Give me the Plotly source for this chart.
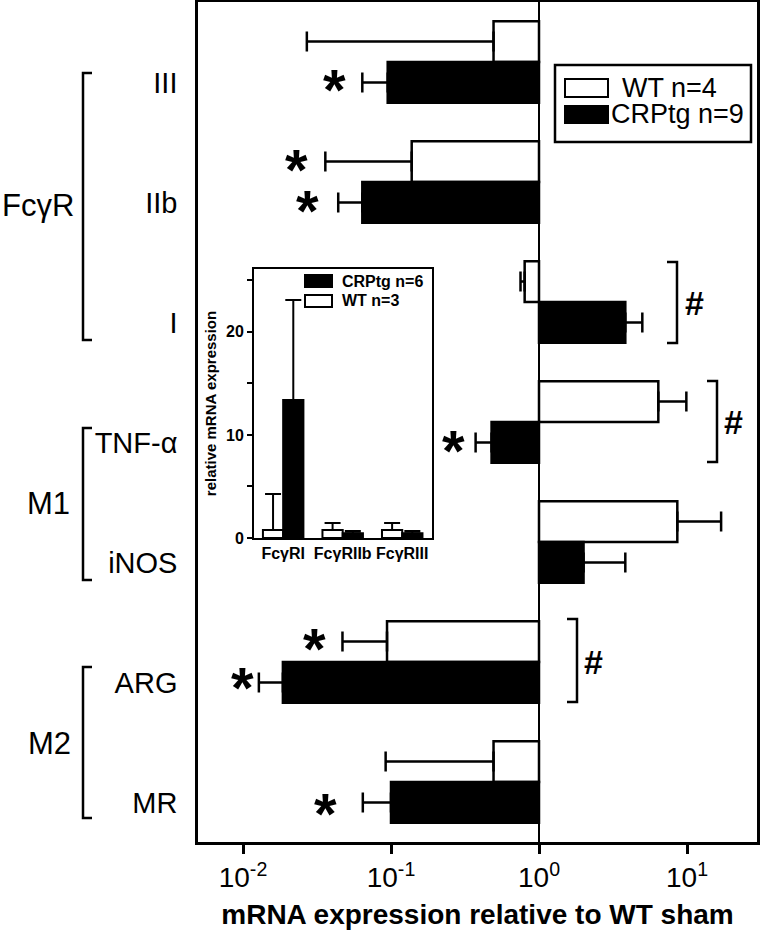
import plotly.graph_objects as go

# ---------------- data ----------------
categories = ["III", "IIb", "I", "TNF-α", "iNOS", "ARG", "MR"]
series_names = ["WT n=4", "CRPtg n=9"]
wt_values = [0.493, 0.138, 0.80, 6.4, 8.6, 0.094, 0.493]
wt_err_end = [0.027, 0.036, 0.75, 9.9, 17.0, 0.047, 0.092]
crp_values = [0.095, 0.064, 3.83, 0.478, 2.0, 0.0186, 0.100]
crp_err_end = [0.064, 0.044, 4.99, 0.373, 3.83, 0.0128, 0.0645]
reference_value = 1

x_tick_values = [0.01, 0.1, 1, 10]
x_tick_labels = ["10<sup>-2</sup>", "10<sup>-1</sup>", "10<sup>0</sup>", "10<sup>1</sup>"]
x_title = "mRNA expression relative to WT sham"

group_labels = ["FcγR", "M1", "M2"]

inset_categories = ["FcγRI", "FcγRIIb", "FcγRIII"]
inset_names = ["WT n=3", "CRPtg n=6"]
inset_wt = [0.78, 0.78, 0.78]
inset_wt_err = [3.5, 0.68, 0.68]
inset_crp = [13.4, 0.45, 0.45]
inset_crp_err = [9.7, 0.23, 0.23]
inset_y_title = "relative mRNA expression"

# ---------------- geometry helpers ----------------
W, H = 760, 930
L, R, T, B = 198, 3, 2, 88
PW = W - L - R
PH = H - T - B


def px(x):
    return (x - L) / PW


def py(y):
    return (H - B - y) / PH


def err_parts(values, ends):
    plus, minus = [], []
    for v, e in zip(values, ends):
        if e >= v:
            plus.append(e - v)
            minus.append(0)
        else:
            plus.append(0)
            minus.append(v - e)
    return plus, minus


FONT = "Liberation Sans, Arial, sans-serif"
LW = 2.5

fig = go.Figure()

for name, vals, ends, fill in [
    (series_names[0], wt_values, wt_err_end, "white"),
    (series_names[1], crp_values, crp_err_end, "black"),
]:
    plus, minus = err_parts(vals, ends)
    fig.add_trace(go.Bar(
        name=name, orientation="h", y=categories,
        x=[v - reference_value for v in vals], base=reference_value,
        marker=dict(color=fill, line=dict(color="black", width=LW)),
        error_x=dict(type="data", symmetric=False, array=plus, arrayminus=minus,
                     color="black", thickness=LW, width=10),
        showlegend=False, xaxis="x", yaxis="y",
    ))

for name, vals, errs, fill in [
    (inset_names[0], inset_wt, inset_wt_err, "white"),
    (inset_names[1], inset_crp, inset_crp_err, "black"),
]:
    fig.add_trace(go.Bar(
        name=name, x=inset_categories, y=vals,
        marker=dict(color=fill, line=dict(color="black", width=2)),
        error_y=dict(type="data", symmetric=False, array=errs,
                     arrayminus=[0] * len(errs), color="black", thickness=2, width=8),
        showlegend=False, xaxis="x2", yaxis="y2",
    ))

shapes = []
annotations = []

# reference line at 10^0
shapes.append(dict(type="line", xref="x", yref="paper", x0=reference_value, x1=reference_value,
                   y0=0, y1=1, line=dict(color="black", width=2)))


def bracket_left(x_v, x_t, y0, y1):
    return dict(type="path", xref="paper", yref="paper",
                path=f"M {px(x_t)} {py(y0)} L {px(x_v)} {py(y0)} L {px(x_v)} {py(y1)} L {px(x_t)} {py(y1)}",
                line=dict(color="black", width=LW))


# group brackets on the left
for (y0, y1, yc, xr), lab in zip([(73, 340, 205, 76), (428, 580, 503, 72), (667, 818, 743, 73)], group_labels):
    shapes.append(bracket_left(83, 92, y0, y1))
    annotations.append(dict(xref="paper", yref="paper", x=px(xr), y=py(yc), text=lab,
                            xanchor="right", yanchor="middle", showarrow=False,
                            font=dict(family=FONT, size=31, color="black")))

# significance brackets (#) on the right
for xv, y0, y1, xh, yh in [(677, 262, 343, 694, 303), (717, 381, 462, 733, 422), (577, 619, 702, 593, 662)]:
    shapes.append(bracket_left(xv, xv - 10, y0, y1))
    annotations.append(dict(xref="paper", yref="paper", x=px(xh), y=py(yh), text="#",
                            xanchor="center", yanchor="middle", showarrow=False,
                            font=dict(family=FONT, size=34, color="black", weight="bold")))

# asterisks
for xa, ya in [(334, 85), (296, 165), (307, 205), (453, 445), (314, 643), (242, 682), (325, 808)]:
    annotations.append(dict(xref="paper", yref="paper", x=px(xa), y=py(ya), text="*",
                            xanchor="center", yanchor="middle", showarrow=False, yshift=-5,
                            font=dict(family=FONT, size=58, color="black", weight="bold")))

# main legend
shapes.append(dict(type="rect", xref="paper", yref="paper", x0=px(555), x1=px(751), y0=py(142), y1=py(65),
                   line=dict(color="black", width=LW), fillcolor="white"))
for (y0, y1), fill, name, tx in [((79, 97), "white", series_names[0], 620), ((106, 123), "black", series_names[1], 609)]:
    shapes.append(dict(type="rect", xref="paper", yref="paper", x0=px(565), x1=px(608), y0=py(y1), y1=py(y0),
                       line=dict(color="black", width=2), fillcolor=fill))
    annotations.append(dict(xref="paper", yref="paper", x=px(tx), y=py((y0 + y1) / 2), text=name,
                            xanchor="left", yanchor="middle", showarrow=False,
                            font=dict(family=FONT, size=27, color="black")))

# inset legend
for (y0, y1), fill, name in [((275, 287), "black", inset_names[1]), ((295, 307), "white", inset_names[0])]:
    shapes.append(dict(type="rect", xref="paper", yref="paper", x0=px(305), x1=px(332), y0=py(y1), y1=py(y0),
                       line=dict(color="black", width=2), fillcolor=fill))
    annotations.append(dict(xref="paper", yref="paper", x=px(340), y=py((y0 + y1) / 2), text=name,
                            xanchor="left", yanchor="middle", showarrow=False,
                            font=dict(family=FONT, size=16, color="black", weight="bold")))

fig.update_layout(
    width=W, height=H,
    margin=dict(l=L, r=R, t=T, b=B, autoexpand=False),
    paper_bgcolor="white", plot_bgcolor="white",
    barmode="group", bargap=0.32, bargroupgap=0,
    shapes=shapes, annotations=annotations,
    font=dict(family=FONT, color="black"),
    xaxis=dict(type="log", range=[(L - 539) / 148, (W - R - 539) / 148], domain=[0, 1],
               tickvals=x_tick_values, ticktext=x_tick_labels,
               ticks="outside", ticklen=9, tickwidth=LW, tickcolor="black",
               tickfont=dict(family=FONT, size=28, color="black"),
               showline=True, linecolor="black", linewidth=LW, mirror=True,
               showgrid=False, zeroline=False,
               title=dict(text=x_title, standoff=14,
                          font=dict(family=FONT, size=28, color="black", weight="bold"))),
    yaxis=dict(type="category", categoryorder="array", categoryarray=categories,
               range=[len(categories) - 0.5, -0.5], domain=[0, 1],
               ticks="", showline=True, linecolor="black", linewidth=LW, mirror=True,
               showgrid=False, zeroline=False, ticklabelstandoff=12, ticklabelshift=-21,
               tickfont=dict(family=FONT, size=29, color="black")),
    xaxis2=dict(domain=[px(254), px(432)], anchor="y2", type="category",
                range=[-0.49, 2.5], ticks="", showline=True, linecolor="black", linewidth=2,
                mirror=True, showgrid=False, zeroline=False,
                tickfont=dict(family=FONT, size=16, color="black", weight="bold")),
    yaxis2=dict(domain=[py(538), py(269)], anchor="x2", range=[0, 26.1],
                tickvals=[0, 10, 20], ticks="outside", ticklen=5, tickwidth=2, tickcolor="black",
                minor=dict(tickvals=[5, 15, 25], ticks="outside", ticklen=5, tickwidth=2, tickcolor="black"),
                showline=True, linecolor="black", linewidth=2, mirror=True,
                showgrid=False, zeroline=False,
                tickfont=dict(family=FONT, size=16, color="black", weight="bold"),
                title=dict(text=inset_y_title, standoff=6,
                           font=dict(family=FONT, size=15, color="black", weight="bold"))),
)

fig.write_html("out.html", config={"displayModeBar": False},
               post_script="document.body.style.margin='0px';")
